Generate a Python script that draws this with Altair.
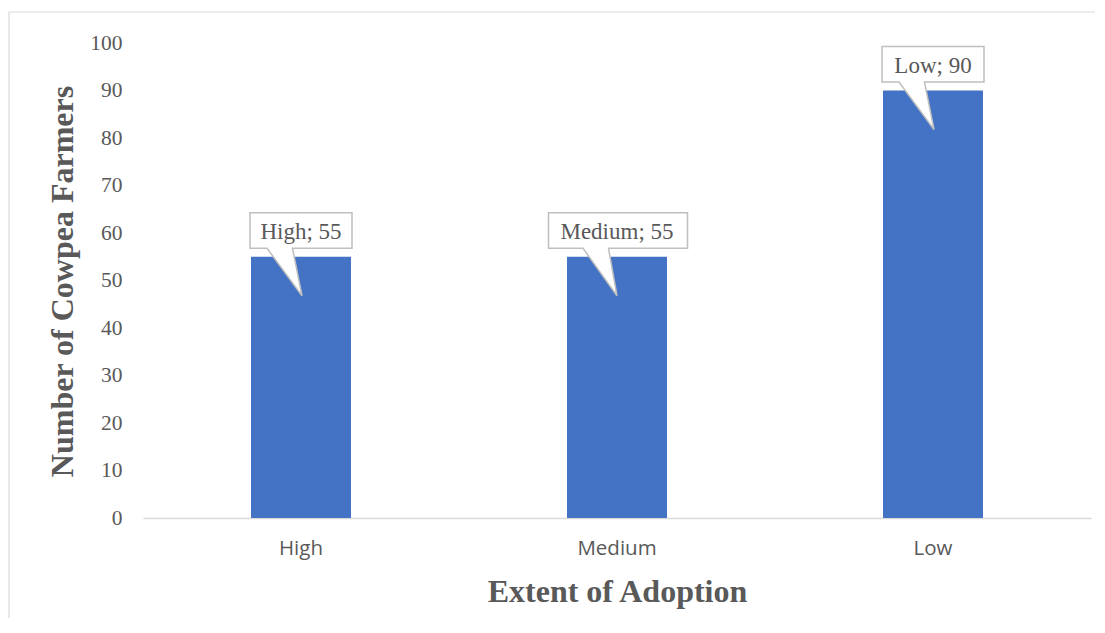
import altair as alt
import pandas as pd

categories = ["High", "Medium", "Low"]
farmers = [55, 55, 90]
y_ticks = [0, 10, 20, 30, 40, 50, 60, 70, 80, 90, 100]

df = pd.DataFrame({
    "cat": categories,
    "n": farmers,
    "label": [f"{c}; {v}" for c, v in zip(categories, farmers)],
})

GREY_TXT = "#595959"
SERIF = "Liberation Serif"

# callout shapes (units of 10 px, size=400 -> scale 10)
path_short = "M-5.1,-4.4 L5.1,-4.4 L5.1,-0.85 L-0.85,-0.85 L0.1,3.9 L-3.4,-0.85 L-5.1,-0.85 Z"
path_long = "M-6.85,-4.4 L7.05,-4.4 L7.05,-0.85 L-0.85,-0.85 L0.0,3.9 L-3.4,-0.85 L-6.85,-0.85 Z"

x_enc = alt.X(
    "cat:N",
    sort=categories,
    scale=alt.Scale(domain=categories),
    title="Extent of Adoption",
    axis=alt.Axis(
        labelAngle=0,
        labelFont="Open Sans",
        labelFontSize=20.5,
        labelColor=GREY_TXT,
        labelPadding=20,
        ticks=False,
        domainColor="#d9d9d9",
        domainWidth=1.5,
        titleFont=SERIF,
        titleFontSize=32,
        titleFontWeight="bold",
        titleColor=GREY_TXT,
        titleX=474,
        titleY=73,
        titleBaseline="middle",
        titleAlign="center",
    ),
)

y_enc = alt.Y(
    "n:Q",
    scale=alt.Scale(domain=[0, 100]),
    title="Number of Cowpea Farmers",
    axis=alt.Axis(
        values=y_ticks,
        grid=False,
        domain=False,
        ticks=False,
        labelFont=SERIF,
        labelFontSize=21.5,
        labelColor=GREY_TXT,
        labelPadding=21,
        titleFont=SERIF,
        titleFontSize=32,
        titleFontWeight="bold",
        titleColor=GREY_TXT,
        titleAngle=-90,
        titleX=-81,
        titleY=238,
        titleBaseline="middle",
        titleAlign="center",
    ),
)

bars = alt.Chart(df).mark_bar(color="#4472C4", size=100).encode(x=x_enc, y=y_enc)

callouts = alt.Chart(df).mark_point(
    filled=True, fill="white", stroke="#bfbfbf", strokeWidth=1.5, opacity=1, size=400
).encode(
    x=alt.X("cat:N", sort=categories),
    y=alt.Y("n:Q"),
    shape=alt.Shape(
        "cat:N",
        scale=alt.Scale(domain=categories, range=[path_short, path_long, path_short]),
        legend=None,
    ),
)

texts = alt.Chart(df).mark_text(
    font=SERIF, fontSize=23, color=GREY_TXT, baseline="middle", dy=-25
).encode(
    x=alt.X("cat:N", sort=categories),
    y=alt.Y("n:Q"),
    text="label:N",
)

border = alt.Chart(alt.Data(values=[{"a": 1}])).mark_rule(color="#d9d9d9", strokeWidth=1.2)
border_left = border.encode(x=alt.value(-134), y=alt.value(-31), y2=alt.value(620))
border_top = border.encode(y=alt.value(-31), x=alt.value(-134), x2=alt.value(980))

chart = alt.layer(border_left, border_top, bars, callouts, texts).properties(
    width=948,
    height=475,
    background="white",
    autosize=alt.AutoSizeParams(type="none"),
    padding={"left": 135, "top": 35, "right": 4, "bottom": 100},
).configure_view(strokeWidth=0, stroke="transparent")

chart.save("out.html", embed_options={"renderer": "svg", "actions": False})
